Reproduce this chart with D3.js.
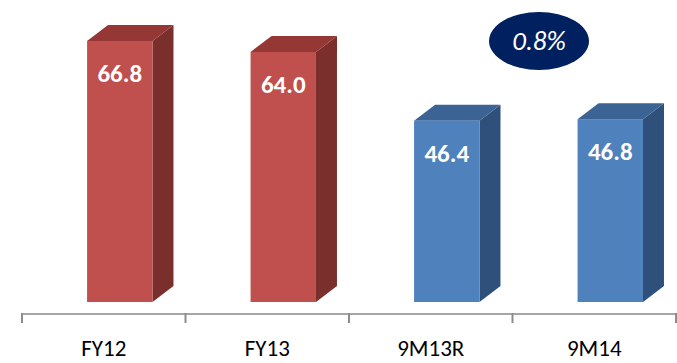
<!DOCTYPE html>
<html>
<head>
<meta charset="utf-8">
<script src="https://cdn.jsdelivr.net/npm/d3@7/dist/d3.min.js"></script>
<style>
  html, body { margin: 0; padding: 0; background: #fff; }
  svg { display: block; }
</style>
</head>
<body>
<svg id="chart" width="677" height="363"></svg>
<script>
// Values per period
const categories = ["FY12", "FY13", "9M13R", "9M14"];
const values = [66.8, 64.0, 46.4, 46.8];
const valueLabels = ["66.8", "64.0", "46.4", "46.8"];
const groups = ["annual", "annual", "nine", "nine"];
const growthLabel = "0.8%";

const palette = {
  annual: { front: "#C0504D", top: "#953735", side: "#7B2F2D" },
  nine:   { front: "#4F81BD", top: "#3B6494", side: "#2F507A" }
};

const svg = d3.select("#chart");

const x = d3.scaleBand().domain(categories).range([22, 676]).paddingInner(0).paddingOuter(0);
const y = d3.scaleLinear().domain([0, 70]).range([302, 302 - 70 * 3.907]);

const depthX = 21, depthY = 16;
const faceW = x.bandwidth() * 0.4;
const faceX = c => x(c) + x.bandwidth() * 0.398;

const bars = svg.append("g").selectAll("g")
  .data(categories.map((c, i) => ({ c, v: values[i], label: valueLabels[i], g: groups[i] })))
  .join("g");

// side face
bars.append("path")
  .attr("fill", d => palette[d.g].side)
  .attr("d", d => {
    const x1 = faceX(d.c) + faceW, y0 = y(0), yt = y(d.v);
    return `M${x1},${yt} L${x1 + depthX},${yt - depthY} L${x1 + depthX},${y0 - depthY} L${x1},${y0} Z`;
  });

// top face
bars.append("path")
  .attr("fill", d => palette[d.g].top)
  .attr("d", d => {
    const x0 = faceX(d.c), x1 = x0 + faceW, yt = y(d.v);
    return `M${x0},${yt} L${x0 + depthX},${yt - depthY} L${x1 + depthX},${yt - depthY} L${x1},${yt} Z`;
  });

// front face
bars.append("rect")
  .attr("fill", d => palette[d.g].front)
  .attr("x", d => faceX(d.c))
  .attr("y", d => y(d.v))
  .attr("width", faceW)
  .attr("height", d => y(0) - y(d.v));

// value labels
bars.append("text")
  .attr("x", d => faceX(d.c) + faceW / 2)
  .attr("y", d => y(d.v) + 41)
  .attr("text-anchor", "middle")
  .attr("fill", "#fff")
  .attr("font-family", "Carlito, 'Liberation Sans', Arial, sans-serif")
  .attr("font-weight", "bold")
  .attr("font-size", 25)
  .text(d => d.label);

// category axis
const axisY = 314;
const axisG = svg.append("g");
axisG.append("line")
  .attr("x1", x.range()[0]).attr("x2", x.range()[1])
  .attr("y1", axisY).attr("y2", axisY)
  .attr("stroke", "#a6a6a6").attr("stroke-width", 2);
const bounds = categories.map(c => x(c)).concat([x.range()[1]]);
axisG.selectAll("line.tick")
  .data(bounds)
  .join("line")
  .attr("class", "tick")
  .attr("x1", d => d).attr("x2", d => d)
  .attr("y1", axisY - 1).attr("y2", axisY + 9)
  .attr("stroke", "#8c8c8c").attr("stroke-width", 2);
axisG.selectAll("text")
  .data(categories)
  .join("text")
  .attr("x", c => x(c) + x.bandwidth() / 2)
  .attr("y", 356)
  .attr("text-anchor", "middle")
  .attr("fill", "#000")
  .attr("font-family", "Carlito, Lato, 'Liberation Sans', sans-serif")
  .attr("font-size", 23)
  .text(c => c);

// growth bubble
const bubble = svg.append("g").attr("transform", "translate(539,41)");
bubble.append("ellipse").attr("rx", 50).attr("ry", 29).attr("fill", "#002060");
bubble.append("text")
  .attr("y", 9)
  .attr("text-anchor", "middle")
  .attr("fill", "#fff")
  .attr("font-family", "Carlito, Lato, 'Liberation Sans', sans-serif")
  .attr("font-style", "italic")
  .attr("font-size", 27)
  .text(growthLabel);
</script>
</body>
</html>
